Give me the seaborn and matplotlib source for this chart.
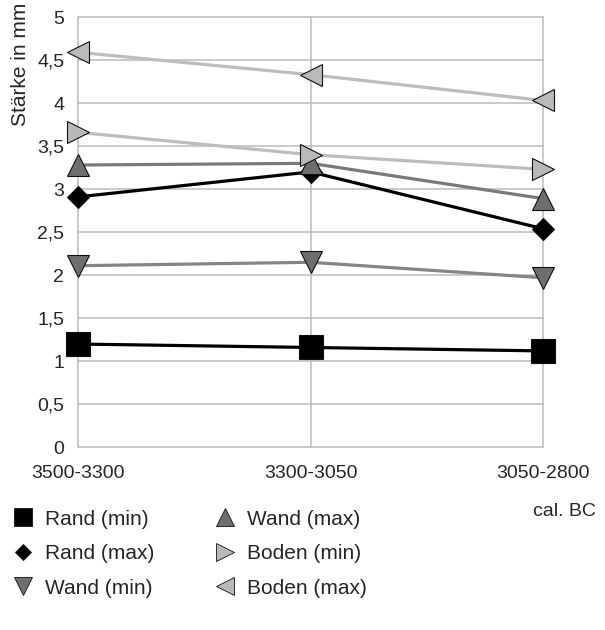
import pandas as pd
import numpy as np
import matplotlib.pyplot as plt
import seaborn as sns
from matplotlib.lines import Line2D

# data
periods = ['3500-3300', '3300-3050', '3050-2800']
rand_min = [1.20, 1.16, 1.12]
rand_max = [2.91, 3.20, 2.54]
wand_min = [2.11, 2.15, 1.97]
wand_max = [3.28, 3.30, 2.89]
boden_min = [3.66, 3.40, 3.23]
boden_max = [4.59, 4.33, 4.03]

series_names = ['Rand (min)', 'Rand (max)', 'Wand (min)',
                'Wand (max)', 'Boden (min)', 'Boden (max)']
series_vals = [rand_min, rand_max, wand_min, wand_max, boden_min, boden_max]

rows = []
for name, vals in zip(series_names, series_vals):
    for p, v in zip(periods, vals):
        rows.append({'Periode': p, 'Serie': name, 'mm': v})
df = pd.DataFrame(rows)

sns.set_style('white')
plt.rcParams['font.family'] = ['Liberation Sans', 'DejaVu Sans']

# styles: line colour, marker, marker face, marker size
styles = {
    'Rand (min)':  ('#000000', 's', '#000000', 17),
    'Rand (max)':  ('#000000', 'D', '#000000', 11),
    'Wand (min)':  ('#858585', 'v', '#6e6e6e', 16),
    'Wand (max)':  ('#7a7a7a', '^', '#6e6e6e', 16),
    'Boden (min)': ('#bcbdbd', '>', '#b8b9ba', 16),
    'Boden (max)': ('#bcbdbd', '<', '#b8b9ba', 16),
}

fig = plt.figure(figsize=(6.05, 6.3), dpi=100)
ax = fig.add_axes([0.129, 0.290, 0.7685, 0.683])

for name in series_names:
    col, mk, fc, ms = styles[name]
    sub = df[df['Serie'] == name]
    sns.lineplot(data=sub, x='Periode', y='mm', ax=ax, color=col, lw=2.3,
                 marker=mk, markersize=ms, markerfacecolor=fc,
                 markeredgecolor='#111111', markeredgewidth=0.8,
                 legend=False, sort=False, zorder=3, clip_on=False)

ax.set_xlim(0, 2)
ax.set_ylim(0, 5)
yt = np.arange(0, 5.01, 0.5)
ax.set_yticks(yt)
ax.set_yticklabels([('%g' % t).replace('.', ',') for t in yt])
ax.grid(True, color='#bcbcbc', lw=1.1)
for gl in ax.get_xgridlines() + ax.get_ygridlines():
    gl.set_clip_on(False)
ax.set_axisbelow(True)
for s in ax.spines.values():
    s.set_visible(False)
ax.tick_params(axis='y', length=7, color='#bcbcbc', labelsize=14, pad=3)
ax.tick_params(axis='x', length=7, color='#bcbcbc', labelsize=14, pad=6,
               direction='out')
ax.set_xlabel('')
ax.set_ylabel('Stärke in mm', fontsize=15)
ax.yaxis.set_label_coords(-0.104, 0.89)

fig.text(0.985, 0.188, 'cal. BC', ha='right', va='center', fontsize=14)

handles = []
for name in series_names:
    col, mk, fc, ms = styles[name]
    handles.append(Line2D([], [], ls='none', marker=mk, markersize=ms * 0.78,
                          markerfacecolor=fc, markeredgecolor='#111111',
                          markeredgewidth=0.6))
fig.legend(handles, series_names, ncol=2, loc='upper left',
           bbox_to_anchor=(-0.007, 0.221), frameon=False, fontsize=15,
           handletextpad=0.65, columnspacing=3.0, labelspacing=0.75,
           handlelength=0.8)

fig.savefig('out.png', dpi=100)
